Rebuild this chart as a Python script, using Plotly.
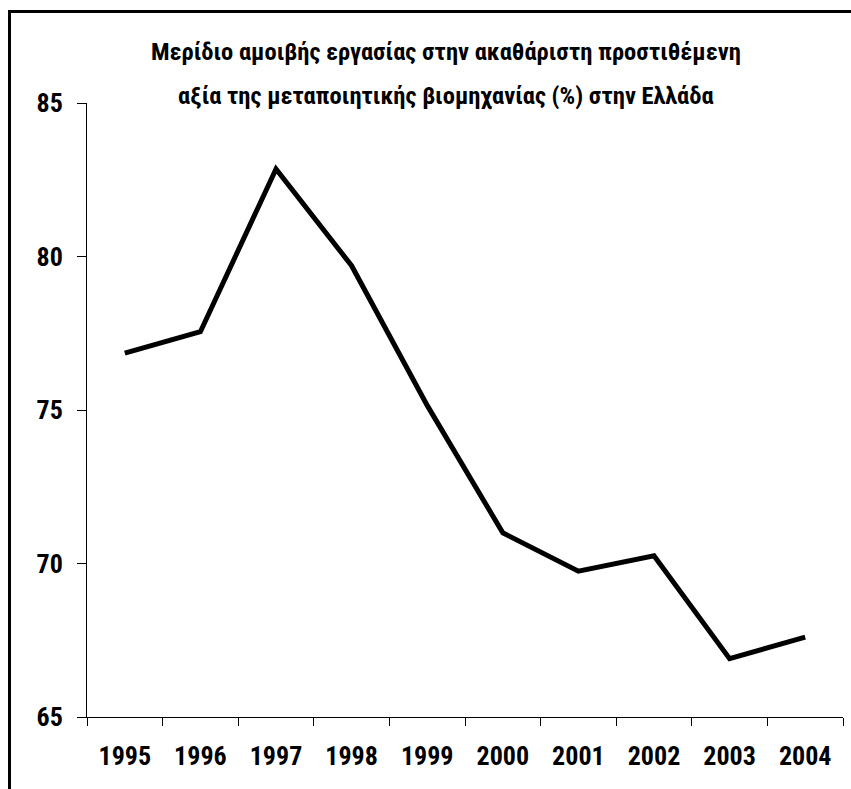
import plotly.graph_objects as go

# Labour share in gross value added of manufacturing, Greece (%)
years = ["1995", "1996", "1997", "1998", "1999", "2000", "2001", "2002", "2003", "2004"]
labour_share = [76.85, 77.55, 82.85, 79.7, 75.15, 71.0, 69.75, 70.25, 66.9, 67.6]

y_ticks = [65, 70, 75, 80, 85]

title_lines = [
    "Μερίδιο αμοιβής εργασίας στην ακαθάριστη προστιθέμενη",
    "αξία της μεταποιητικής βιομηχανίας (%) στην Ελλάδα",
]

W, H = 851, 789
ML, MR, MT, MB = 87, 8, 103, 72
PW, PH = W - ML - MR, H - MT - MB

FONT = "Roboto, Open Sans, Liberation Sans, sans-serif"


def px_to_paper_x(px):
    return (px - ML) / PW


def px_to_paper_y(py):
    return (H - MB - py) / PH


fig = go.Figure()
fig.add_trace(go.Scatter(
    x=years,
    y=labour_share,
    mode="lines",
    line=dict(color="black", width=5),
    hoverinfo="x+y",
))

fig.update_layout(
    width=W,
    height=H,
    margin=dict(l=ML, r=MR, t=MT, b=MB, pad=0),
    paper_bgcolor="white",
    plot_bgcolor="white",
    showlegend=False,
    font=dict(family=FONT, color="black"),
)

fig.update_xaxes(
    type="category",
    range=[-0.5, len(years) - 0.5],
    showgrid=False,
    zeroline=False,
    showline=True,
    linecolor="black",
    linewidth=1,
    ticks="outside",
    tickson="boundaries",
    ticklen=8,
    tickcolor="black",
    tickwidth=1,
    ticklabelstandoff=16,
    tickfont=dict(family=FONT, size=26, color="black", weight="bold"),
)

fig.update_yaxes(
    range=[65, 85],
    tickvals=y_ticks,
    showgrid=False,
    zeroline=False,
    showline=True,
    linecolor="black",
    linewidth=1,
    ticks="outside",
    ticklen=9,
    tickcolor="black",
    tickwidth=1,
    ticklabelstandoff=9,
    tickfont=dict(family=FONT, size=26, color="black", weight="bold"),
)

# two-line heading
for txt, ypx in zip(title_lines, [52, 95]):
    fig.add_annotation(
        text=txt,
        xref="paper", yref="paper",
        x=px_to_paper_x(446), y=px_to_paper_y(ypx),
        xanchor="center", yanchor="middle",
        showarrow=False,
        font=dict(family=FONT, size=24.5, color="black", weight="bold"),
    )

# outer frame around the whole chart
fig.add_shape(
    type="rect",
    xref="paper", yref="paper",
    x0=px_to_paper_x(9.5), x1=px_to_paper_x(W + 20),
    y0=px_to_paper_y(H + 20), y1=px_to_paper_y(11.5),
    line=dict(color="black", width=3),
    fillcolor="rgba(0,0,0,0)",
    layer="above",
)

# condensed letterforms for every text element (variable-width font axis)
condense_js = """
(function(){
  var gd = document.getElementById('{plot_id}');
  function condense(){
    gd.querySelectorAll('text').forEach(function(t){ t.style.fontStretch = '75%'; });
  }
  condense();
  setTimeout(condense, 30);
  if (gd.on) { gd.on('plotly_afterplot', condense); }
})();
"""

fig.write_html("out.html", post_script=condense_js)
